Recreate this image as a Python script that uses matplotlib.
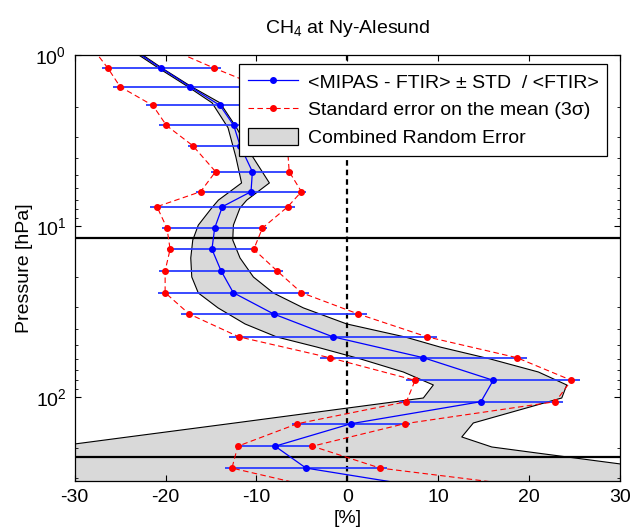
import numpy as np
import matplotlib
matplotlib.use("Agg")
import matplotlib.pyplot as plt
from matplotlib.patches import Patch
from matplotlib.lines import Line2D

plt.rcParams['font.family'] = ['Liberation Sans', 'DejaVu Sans']
plt.rcParams['mathtext.fontset'] = 'custom'
plt.rcParams['mathtext.rm'] = 'Liberation Sans'
plt.rcParams['mathtext.it'] = 'Liberation Sans:italic'
plt.rcParams['mathtext.default'] = 'regular'
plt.rcParams['axes.unicode_minus'] = False

# MIPAS - FTIR relative differences at the FTIR levels
pres = [0.93, 1.19, 1.53, 1.97, 2.58, 3.39, 4.81, 6.30, 7.71, 10.3, 13.7, 18.3,
        24.6, 32.8, 44.6, 59.1, 80.2, 107, 144, 195, 262, 352]
mean_diff = [-23.6, -20.5, -17.3, -14.0, -12.5, -11.8, -10.45, -10.6, -13.75, -14.6,
             -14.9, -13.9, -12.55, -8.1, -1.6, 8.35, 16.05, 14.7, 0.4, -7.95, -4.55, 10.4]
std_diff = [6.0, 6.55, 8.5, 8.2, 8.2, 5.7, 4.5, 6.05, 8.0, 5.8, 4.95, 6.8,
            8.3, 10.25, 11.45, 11.4, 9.6, 9.05, 6.5, 4.3, 8.95, 13.5]
sem3 = [4.3, 5.85, 7.7, 7.4, 7.4, 5.2, 4.05, 5.55, 7.2, 5.25, 4.6, 6.15,
        7.5, 9.3, 10.35, 10.3, 8.6, 8.2, 5.9, 4.1, 8.15, 12.7]

# combined random error envelope
band_p = [0.93, 1.00, 1.19, 1.53, 1.90, 2.66, 3.94, 5.60, 7.06, 7.84, 9.89, 12.1,
          15.4, 19.9, 24.7, 30.2, 37.5, 44.7, 51.2, 60.1, 71.7, 85.4, 101.8,
          142.6, 172.2, 197.1, 213.7, 248, 312]
band_lo = [-24.0, -22.92, -20.77, -17.53, -14.89, -13.13, -12.27, -11.64, -14.19,
           -14.92, -16.40, -17.01, -17.23, -17.12, -16.40, -14.23, -11.26, -7.77,
           -3.37, 1.43, 6.16, 9.46, 8.36, -12.38, -24.13, -32.5, -37.6, -46.8, -61.0]
band_hi = [-23.5, -22.48, -20.39, -17.14, -14.01, -12.19, -10.41, -8.58, -11.07,
           -11.81, -12.54, -12.61, -11.81, -10.34, -8.14, -4.84, -0.07, 6.35,
           10.2, 15.70, 21.02, 24.14, 23.59, 13.86, 12.59, 15.89, 20.84, 30.08, 44.0]

hlines_p = [11.76, 224.6]

mean_diff = np.array(mean_diff)
sem3 = np.array(sem3)

fig = plt.figure(figsize=(6.33, 5.31), dpi=100)
ax = fig.add_axes([0.118, 0.095, 0.8615, 0.8010])

ax.fill_betweenx(band_p, band_lo, band_hi, color='#d9d9d9', lw=0)
ax.plot(band_lo, band_p, color='black', lw=0.8)
ax.plot(band_hi, band_p, color='black', lw=0.8)

ax.axvline(0, color='black', lw=1.6, ls=(0, (2.5, 1.8)))
for hp in hlines_p:
    ax.axhline(hp, color='black', lw=1.6)

ax.errorbar(mean_diff, pres, xerr=std_diff, fmt='none', ecolor='#2a3cff', elinewidth=1.3, capsize=0)
ax.plot(mean_diff, pres, color='blue', lw=0.9, marker='o', ms=4)
ax.plot(mean_diff - sem3, pres, color='red', lw=0.8, ls=(0, (5, 3)), marker='o', ms=4)
ax.plot(mean_diff + sem3, pres, color='red', lw=0.8, ls=(0, (5, 3)), marker='o', ms=4)

ax.set_yscale('log')
ax.set_ylim(310, 1)
ax.set_xlim(-30, 30)
ax.set_xticks([-30, -20, -10, 0, 10, 20, 30])
ax.tick_params(which='both', direction='in', top=True, right=True, labelsize=14)
ax.tick_params(which='major', length=4, pad=6)
ax.tick_params(which='minor', length=2.5)
for s in ax.spines.values():
    s.set_linewidth(0.9)

ax.set_xlabel('[%]', fontsize=14, labelpad=3)
ax.set_ylabel('Pressure [hPa]', fontsize=14, labelpad=2)
ax.set_title('CH$_4$ at Ny-Alesund', fontsize=14, pad=16)

handles = [
    Line2D([], [], color='blue', lw=0.9, marker='o', ms=4),
    Line2D([], [], color='red', lw=0.8, ls=(0, (5, 3)), marker='o', ms=4),
    Patch(facecolor='#d9d9d9', edgecolor='black', lw=0.9),
]
labels = ['<MIPAS - FTIR> ± STD  / <FTIR>',
          'Standard error on the mean (3σ)',
          'Combined Random Error']
leg = ax.legend(handles, labels, loc='upper right', bbox_to_anchor=(0.977, 0.98),
                fontsize=14, fancybox=False, framealpha=1, edgecolor='black',
                handlelength=2.6, handleheight=1.0, handletextpad=0.5,
                labelspacing=0.42, borderpad=0.45, borderaxespad=0)
leg.set_zorder(5)
leg.get_frame().set_linewidth(0.9)

fig.savefig('out.png', dpi=100)
